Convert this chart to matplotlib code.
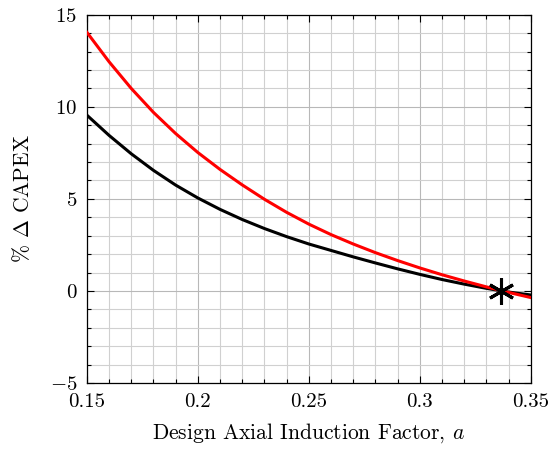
import matplotlib

matplotlib.use("Agg")
import matplotlib.pyplot as plt
from matplotlib.ticker import MultipleLocator

# design axial induction factor (x) and % change in CAPEX (y)
a_vals = [0.15, 0.16, 0.17, 0.18, 0.19, 0.20, 0.21, 0.22, 0.23, 0.24, 0.25,
          0.26, 0.27, 0.28, 0.29, 0.30, 0.31, 0.32, 0.33, 0.34, 0.35]
capex_red = [14.05, 12.45, 11.0, 9.7, 8.55, 7.52, 6.6, 5.76, 4.98, 4.27, 3.63,
             3.06, 2.55, 2.08, 1.65, 1.25, 0.88, 0.54, 0.22, -0.08, -0.36]
capex_black = [9.55, 8.45, 7.45, 6.55, 5.75, 5.05, 4.43, 3.88, 3.39, 2.95, 2.55,
               2.2, 1.85, 1.52, 1.2, 0.9, 0.62, 0.37, 0.14, -0.06, -0.22]
star_a = [0.3365]
star_y = [0.0]

plt.rcParams.update({
    "font.family": "serif",
    "font.serif": ["cmr10"],
    "mathtext.fontset": "cm",
    "axes.formatter.use_mathtext": True,
    "font.size": 15,
})

fig = plt.figure(figsize=(5.5, 4.5), dpi=100)
ax = fig.add_axes([0.158, 0.149, 0.807, 0.818])

ax.plot(a_vals, capex_black, color="black", linewidth=2.2, zorder=3)
ax.plot(a_vals, capex_red, color="red", linewidth=2.2, zorder=4)
ax.plot(star_a, star_y, linestyle="none", marker=(6, 2, 0), markersize=19,
        markeredgewidth=2.2, color="black", zorder=5)

ax.set_xlim(0.15, 0.35)
ax.set_ylim(-5, 15)
ax.xaxis.set_major_locator(MultipleLocator(0.05))
ax.xaxis.set_minor_locator(MultipleLocator(0.01))
ax.yaxis.set_major_locator(MultipleLocator(5))
ax.yaxis.set_minor_locator(MultipleLocator(1))
ax.xaxis.set_major_formatter(plt.FuncFormatter(lambda v, _p: f"{v:g}"))
ax.yaxis.set_major_formatter(plt.FuncFormatter(lambda v, _p: f"${v:g}$"))

ax.grid(True, which="major", color="#b8b8b8", linewidth=0.8)
ax.grid(True, which="minor", color="#d0d0d0", linewidth=0.8)
ax.set_axisbelow(True)
ax.tick_params(which="both", direction="in", top=True, right=True, width=0.8)
ax.tick_params(which="major", length=5, labelsize=15, pad=7)
ax.tick_params(which="minor", length=3)
for s in ax.spines.values():
    s.set_linewidth(0.9)

ax.set_xlabel(r"Design Axial Induction Factor, $a$", fontsize=15.5, labelpad=8)
ax.set_ylabel(r"% $\Delta$ CAPEX", fontsize=15.5, labelpad=12)

fig.savefig("out.png", dpi=100)
